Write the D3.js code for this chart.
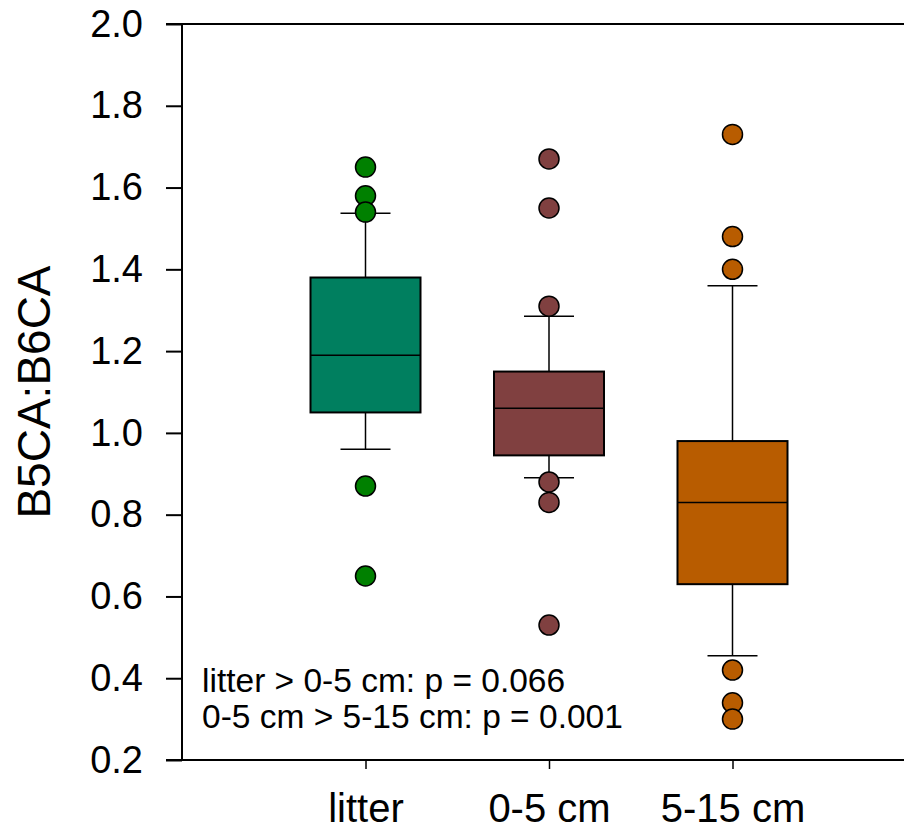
<!DOCTYPE html>
<html>
<head>
<meta charset="utf-8">
<script src="https://cdn.jsdelivr.net/npm/d3@7"></script>
<style>
html,body{margin:0;padding:0;background:#fff;}
svg{display:block;font-family:"Liberation Sans",Arial,sans-serif;}
</style>
</head>
<body>
<svg id="chart" width="904" height="831"></svg>
<script>
const categories = ["litter", "0-5 cm", "5-15 cm"];
const q1 = [1.05, 0.945, 0.63];
const medians = [1.19, 1.06, 0.83];
const q3 = [1.38, 1.15, 0.98];
const whiskerLow = [0.96, 0.89, 0.455];
const whiskerHigh = [1.537, 1.285, 1.36];
const outliers = [
  [1.65, 1.58, 1.54, 0.87, 0.65],
  [1.67, 1.55, 1.31, 0.88, 0.83, 0.53],
  [1.73, 1.48, 1.40, 0.42, 0.34, 0.30]
];
const boxColors = ["#007f5f", "#804040", "#b85c00"];
const pointColors = ["#008000", "#804040", "#b85c00"];
const yTicks = [0.2, 0.4, 0.6, 0.8, 1.0, 1.2, 1.4, 1.6, 1.8, 2.0];
const annotations = ["litter > 0-5 cm: p = 0.066", "0-5 cm > 5-15 cm: p = 0.001"];

const svg = d3.select("#chart");
const x = d3.scaleLinear().domain([0, 4]).range([182, 916]);
const y = d3.scaleLinear().domain([0.2, 2.0]).range([760, 24]);
const boxW = 110, capW = 50;

// frame line (top)
svg.append("line").attr("x1", 182).attr("x2", 904).attr("y1", y(2.0)).attr("y2", y(2.0))
  .attr("stroke", "#000").attr("stroke-width", 2);

// y axis
const yAxis = d3.axisLeft(y).tickValues(yTicks).tickFormat(d3.format(".1f")).tickSize(16).tickPadding(23);
const gy = svg.append("g").attr("transform", "translate(182,0)").call(yAxis);
gy.select(".domain").attr("stroke-width", 2).attr("d", `M-16,${y(2.0)}H0V${y(0.2)}H-16`);
gy.selectAll(".tick line").attr("stroke-width", 2);
gy.selectAll(".tick text").attr("font-size", 38).attr("fill", "#000").attr("font-family", "'Liberation Sans',Arial,sans-serif");

// x axis
const xAxis = d3.axisBottom(x).tickValues([1, 2, 3]).tickFormat((d) => categories[d - 1]).tickSize(9).tickPadding(25);
const gx = svg.append("g").attr("transform", `translate(0,${y(0.2)})`).call(xAxis);
gx.select(".domain").attr("stroke-width", 2).attr("d", `M182,0H904`);
gx.selectAll(".tick line").attr("stroke-width", 1.5);
gx.selectAll(".tick text").attr("font-size", 40).attr("fill", "#000").attr("font-family", "'Liberation Sans',Arial,sans-serif");

// y label
svg.append("text").attr("transform", `translate(50,${y(1.1)}) rotate(-90)`)
  .attr("text-anchor", "middle").attr("font-size", 46).text("B5CA:B6CA");

// boxes
categories.forEach((c, i) => {
  const cx = x(i + 1);
  const g = svg.append("g");
  g.append("line").attr("x1", cx).attr("x2", cx).attr("y1", y(q3[i])).attr("y2", y(whiskerHigh[i]))
    .attr("stroke", "#000").attr("stroke-width", 1.5);
  g.append("line").attr("x1", cx).attr("x2", cx).attr("y1", y(q1[i])).attr("y2", y(whiskerLow[i]))
    .attr("stroke", "#000").attr("stroke-width", 1.5);
  [whiskerHigh[i], whiskerLow[i]].forEach((v) => {
    g.append("line").attr("x1", cx - capW / 2).attr("x2", cx + capW / 2).attr("y1", y(v)).attr("y2", y(v))
      .attr("stroke", "#000").attr("stroke-width", 1.5);
  });
  g.append("rect").attr("x", cx - boxW / 2).attr("width", boxW)
    .attr("y", y(q3[i])).attr("height", y(q1[i]) - y(q3[i]))
    .attr("fill", boxColors[i]).attr("stroke", "#000").attr("stroke-width", 2);
  g.append("line").attr("x1", cx - boxW / 2).attr("x2", cx + boxW / 2).attr("y1", y(medians[i])).attr("y2", y(medians[i]))
    .attr("stroke", "#000").attr("stroke-width", 1.5);
  g.selectAll("circle").data(outliers[i]).join("circle")
    .attr("cx", cx).attr("cy", (d) => y(d)).attr("r", 10)
    .attr("fill", pointColors[i]).attr("stroke", "#000").attr("stroke-width", 1.5);
});

// annotations
annotations.forEach((t, i) => {
  svg.append("text").attr("x", 202).attr("y", 692 + i * 36).attr("font-size", 33.5).text(t);
});
</script>
</body>
</html>
